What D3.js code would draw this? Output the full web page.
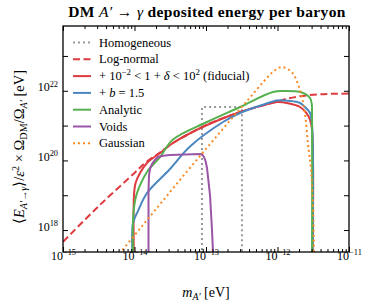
<!DOCTYPE html>
<html lang="en">
<head>
<meta charset="UTF-8">
<title>DM A' to gamma deposited energy per baryon</title>
<script src="https://cdn.jsdelivr.net/npm/d3@7"></script>
<style>
    body { margin: 0; background: #fff; }
    .axis path { display: none; }
    .axis line { stroke: #000; stroke-width: 1; }
    .curve { fill: none; stroke-width: 2; }
</style>
</head>
<body>
<script>
// log10(m_A' / eV), log10(E / eV) pairs
const homogeneous = [[-13.056, 17.0], [-13.056, 21.534], [-12.497, 21.534], [-12.497, 17.0]];
const logNormal = [[-15.1, 17.45], [-15.0, 17.66], [-14.5, 18.69], [-14.0, 19.64], [-13.85, 19.93],
    [-13.72, 20.12], [-13.64, 20.23], [-13.46, 20.5], [-12.99, 21.02], [-12.52, 21.39], [-12.2, 21.58],
    [-12.0, 21.69], [-11.87, 21.77], [-11.69, 21.84], [-11.4, 21.9], [-11.0, 21.92]];
const fiducial = [[-14.007, 17.0], [-14.007, 19.0], [-13.985, 19.35], [-13.923, 19.64], [-13.825, 19.925],
    [-13.643, 20.213], [-13.462, 20.5], [-12.986, 21.017], [-12.524, 21.391], [-12.2, 21.58], [-12.007, 21.678],
    [-11.85, 21.64], [-11.685, 21.534], [-11.6, 21.37], [-11.545, 21.161], [-11.517, 20.87], [-11.51, 17.0]];
const bias15 = [[-14.02, 17.0], [-14.02, 18.2], [-13.95, 18.55], [-13.825, 19.063], [-13.517, 19.724],
    [-13.224, 20.4], [-12.762, 21.103], [-12.524, 21.362], [-12.2, 21.6], [-12.007, 21.72], [-11.85, 21.71],
    [-11.685, 21.649], [-11.6, 21.5], [-11.545, 21.362], [-11.517, 21.017], [-11.51, 17.0]];
const analytic = [[-14.021, 17.0], [-14.021, 18.29], [-14.0, 18.75], [-13.965, 19.063], [-13.825, 19.667],
    [-13.643, 20.098], [-13.462, 20.6], [-12.986, 21.103], [-12.524, 21.534], [-12.063, 21.966], [-11.9, 21.99],
    [-11.685, 21.966], [-11.615, 21.908], [-11.545, 21.793], [-11.52, 21.6], [-11.517, 21.448], [-11.517, 17.0]];
const voids = [[-13.804, 17.0], [-13.804, 19.15], [-13.797, 19.58], [-13.78, 19.78], [-13.755, 19.897],
    [-13.72, 20.0], [-13.671, 20.098], [-13.6, 20.135], [-13.503, 20.155], [-13.084, 20.184], [-13.05, 20.16],
    [-13.028, 20.098], [-13.005, 19.97], [-12.986, 19.782], [-12.944, 19.006], [-12.916, 18.0],
    [-12.902, 17.368], [-12.895, 17.0]];
const gaussian = [[-14.25, 17.2], [-14.19, 17.37], [-13.9, 18.1], [-13.6, 18.85], [-13.3, 19.6], [-13.0, 20.33],
    [-12.7, 21.06], [-12.4, 21.77], [-12.2, 22.25], [-12.06, 22.55], [-11.94, 22.68], [-11.8, 22.53],
    [-11.69, 22.05], [-11.62, 21.4], [-11.575, 20.5], [-11.53, 19.7], [-11.5, 18.5], [-11.49, 17.0]];

const xMajor = [1e-15, 1e-14, 1e-13, 1e-12, 1e-11];
const xLabels = ['−15', '−14', '−13', '−12', '−11'];
const yMajor = [1e18, 1e19, 1e20, 1e21, 1e22, 1e23];
const yLabelled = [1e18, 1e20, 1e22];
const yLabels = ['18', '20', '22'];

const series = [
    {data: homogeneous, color: '#999999', dash: '2,3', smooth: false},
    {data: logNormal, color: '#dd3b3f', dash: '7,3.5', smooth: true},
    {data: fiducial, color: '#dd3b3f', dash: null, smooth: true},
    {data: bias15, color: '#4a86c0', dash: null, smooth: true},
    {data: analytic, color: '#55b04f', dash: null, smooth: true},
    {data: voids, color: '#9a55a6', dash: null, smooth: false},
    {data: gaussian, color: '#f98a25', dash: '2,3', smooth: true}
];

const serif = '"Liberation Serif", "Times New Roman", serif';

let width = 374;
let height = 304;
let plot = {l: 63, r: 349, t: 26, b: 252};

let svg = d3.select('body')
    .append('svg')
    .attr('width', width)
    .attr('height', height)
    .style('font-family', serif);

let x = d3.scaleLog().domain([1e-15, 1e-11]).range([plot.l, plot.r]);
let y = d3.scaleLog().domain([Math.pow(10, 17.37), Math.pow(10, 23.86)]).range([plot.b, plot.t]);

// text with italic / super / subscript pieces
function rich(text, parts, fs) {
    let shift = 0;
    text.attr('font-family', serif);
    parts.forEach(function (p) {
        let s = p[0], k = p[1] || '';
        let want = k.indexOf('sup') >= 0 ? -0.38 * fs : (k.indexOf('sub') >= 0 ? 0.22 * fs : 0);
        let t = text.append('tspan').text(s).attr('dy', want - shift);
        if (want !== 0) t.attr('font-size', 0.7 * fs);
        if (k.indexOf('i') === 0 || k.indexOf('-i') >= 0) t.attr('font-style', 'italic');
        if (k.indexOf('n') >= 0) t.attr('font-weight', 'normal');
        shift = want;
    });
}

svg.append('clipPath').attr('id', 'clip')
    .append('rect')
    .attr('x', plot.l).attr('y', plot.t)
    .attr('width', plot.r - plot.l).attr('height', plot.b - plot.t);

let line = d3.line()
    .x(function (d) { return x(Math.pow(10, d[0])); })
    .y(function (d) { return y(Math.pow(10, d[1])); });

svg.append('g').attr('clip-path', 'url(#clip)')
    .selectAll('path')
    .data(series)
    .enter()
    .append('path')
    .attr('class', 'curve')
    .attr('d', function (d) {
        return line.curve(d.smooth ? d3.curveCatmullRom.alpha(0.5) : d3.curveLinear)(d.data);
    })
    .attr('stroke', function (d) { return d.color; })
    .attr('stroke-dasharray', function (d) { return d.dash; });

// minor x ticks
let xMinor = [];
for (let e = -15; e < -11; e++) {
    for (let k = 2; k < 10; k++) xMinor.push(k * Math.pow(10, e));
}

svg.append('g').attr('class', 'axis')
    .attr('transform', 'translate(0,' + plot.b + ')')
    .call(d3.axisBottom(x).tickValues(xMinor).tickSize(-3).tickFormat(''));
svg.append('g').attr('class', 'axis')
    .attr('transform', 'translate(0,' + plot.t + ')')
    .call(d3.axisTop(x).tickValues(xMinor).tickSize(-3).tickFormat(''));
svg.append('g').attr('class', 'axis')
    .attr('transform', 'translate(0,' + plot.t + ')')
    .call(d3.axisTop(x).tickValues(xMajor).tickSize(-5).tickFormat(''));

let xAxis = svg.append('g').attr('class', 'axis')
    .attr('transform', 'translate(0,' + plot.b + ')')
    .call(d3.axisBottom(x).tickValues(xMajor).tickSize(-5).tickPadding(8).tickFormat(''));
xAxis.attr('font-family', serif);
xAxis.selectAll('.tick text').each(function (d, i) {
    let t = d3.select(this).attr('font-size', 12).attr('dy', '0.71em');
    rich(t, [['10'], [xLabels[i], 'sup']], 12);
});

svg.append('g').attr('class', 'axis')
    .attr('transform', 'translate(' + plot.r + ',0)')
    .call(d3.axisRight(y).tickValues(yMajor).tickSize(-5).tickFormat(''));
let yAxis = svg.append('g').attr('class', 'axis')
    .attr('transform', 'translate(' + plot.l + ',0)')
    .call(d3.axisLeft(y).tickValues(yMajor).tickSize(-5).tickPadding(5).tickFormat(''));
yAxis.attr('font-family', serif);
yAxis.selectAll('.tick text').each(function (d) {
    let i = yLabelled.indexOf(d);
    if (i < 0) return;
    let t = d3.select(this).attr('font-size', 12).attr('dy', '0.5em');
    rich(t, [['10'], [yLabels[i], 'sup']], 12);
});

// frame
svg.append('rect')
    .attr('x', plot.l).attr('y', plot.t)
    .attr('width', plot.r - plot.l).attr('height', plot.b - plot.t)
    .attr('fill', 'none').attr('stroke', '#000').attr('stroke-width', 1.3);

// legend
let legendText = [
    [['Homogeneous']],
    [['Log-normal']],
    [['+ 10'], ['−2', 'sup'], [' < 1 + '], ['δ', 'i'], [' < 10'], ['2', 'sup'], [' (fiducial)']],
    [['+ '], ['b', 'i'], [' = 1.5']],
    [['Analytic']],
    [['Voids']],
    [['Gaussian']]
];
let legend = svg.append('g').selectAll('g')
    .data(series)
    .enter()
    .append('g')
    .attr('transform', function (d, i) { return 'translate(0,' + (42.5 + i * 16.8) + ')'; });
legend.append('line')
    .attr('x1', 73).attr('x2', 91)
    .attr('stroke', function (d) { return d.color; })
    .attr('stroke-width', 2)
    .attr('stroke-dasharray', function (d) { return d.dash; });
legend.append('text')
    .attr('x', 99).attr('y', 4)
    .attr('font-size', 12.5)
    .each(function (d, i) { rich(d3.select(this), legendText[i], 12.5); });

// title and axis labels
let title = svg.append('text')
    .attr('x', (plot.l + plot.r) / 2 + 1).attr('y', 17)
    .attr('text-anchor', 'middle')
    .attr('font-size', 15.5).attr('font-weight', 'bold')
    .attr('letter-spacing', 0.35);
rich(title, [['DM '], ['A′', 'i-n'], [' → ', 'n'], ['γ', 'i-n'], [' deposited energy per baryon']], 15.5);

let xLabel = svg.append('text')
    .attr('x', (plot.l + plot.r) / 2).attr('y', 297)
    .attr('text-anchor', 'middle')
    .attr('font-size', 14);
rich(xLabel, [['m', 'i'], ['A′', 'sub-i'], [' [eV]']], 14);

let yLabel = svg.append('text')
    .attr('transform', 'translate(24,' + 147 + ') rotate(-90)')
    .attr('text-anchor', 'middle')
    .attr('font-size', 14.5);
rich(yLabel, [['⟨'], ['E', 'i'], ['A′→γ', 'sub-i'], ['⟩/'], ['ε', 'i'], ['2', 'sup'],
    [' × Ω'], ['DM', 'sub'], ['/Ω'], ['A′', 'sub-i'], [' [eV]']], 14.5);
</script>
</body>
</html>
